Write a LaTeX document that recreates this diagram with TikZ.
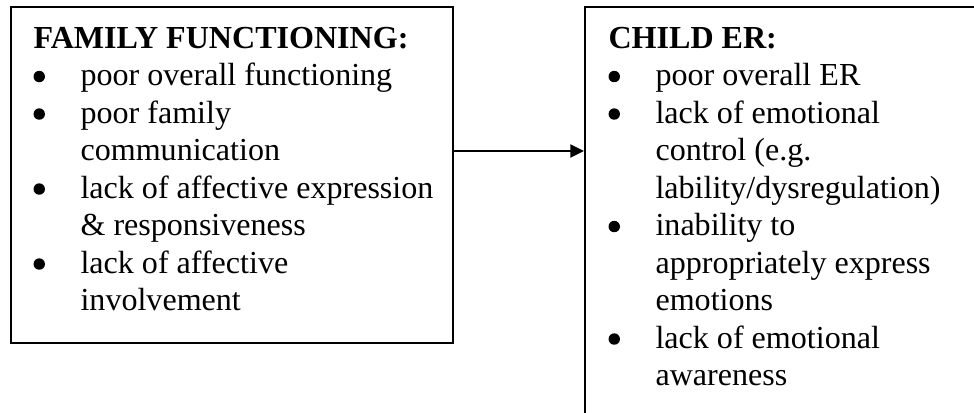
\documentclass[tikz,border=0pt]{standalone}
\usepackage{fontspec}
\setmainfont{Liberation Serif}
\usetikzlibrary{arrows.meta}

\newcommand{\itm}{\makebox[17.3pt][l]{\tikz[baseline=-3.3pt]\fill (2.1pt,0) circle (2.1pt);}}

\tikzset{
  box/.style={draw=black, line width=0.75pt, rectangle, inner sep=0pt},
  list/.style={inner sep=0pt, anchor=base west, align=left,
    font=\fontsize{11.8}{13.8}\selectfont},
  conn/.style={line width=0.75pt, -{Triangle[length=5pt, width=4.8pt]}}
}

\begin{document}
\begin{tikzpicture}[x=0.368pt, y=-0.368pt]
    \clip (0,0) rectangle (974,412);
    \node[box, minimum width=162.7pt, minimum height=123.6pt] (family) at (232,175) {};
    \node[box, minimum width=154.6pt, minimum height=158.2pt] (child) at (795,222) {};
    \node[list] (familytext) at (33,48) {%
        \begin{tabular}[t]{@{}l@{}l@{}}
        \multicolumn{2}{@{}l@{}}{\textbf{FAMILY FUNCTIONING:}}\\
        \itm & poor overall functioning\\
        \itm & poor family\\
             & communication\\
        \itm & lack of affective expression\\
             & \& responsiveness\\
        \itm & lack of affective\\
             & involvement
        \end{tabular}};
    \node[list] (childtext) at (608,48) {%
        \begin{tabular}[t]{@{}l@{}l@{}}
        \multicolumn{2}{@{}l@{}}{\textbf{CHILD ER:}}\\
        \itm & poor overall ER\\
        \itm & lack of emotional\\
             & control (e.g.\\
             & lability/dysregulation)\\
        \itm & inability to\\
             & appropriately express\\
             & emotions\\
        \itm & lack of emotional\\
             & awareness
        \end{tabular}};
    \draw[conn] (family.east |- 0,151) -- (child.west |- 0,151);
\end{tikzpicture}
\end{document}
